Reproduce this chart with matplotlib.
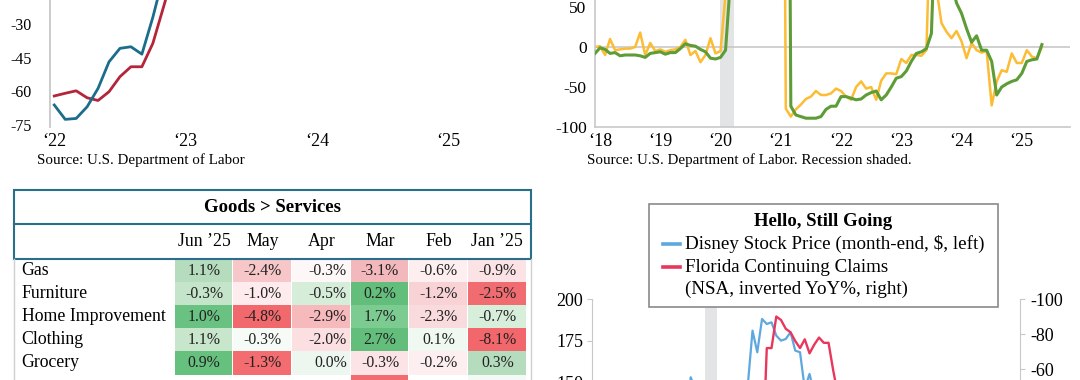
import matplotlib.pyplot as plt
from matplotlib.patches import Rectangle
import numpy as np

plt.rcParams['font.family'] = ['Liberation Serif', 'DejaVu Serif']
plt.rcParams['axes.unicode_minus'] = False

W, H = 1080, 380

# top left panel, monthly from Jan '22
tl_blue = [-66.0, -72.4, -72.0, -66.8, -58.6, -46.8, -40.8, -40.1, -43.4, -27.0, -8.0]
tl_red = [-62.0, -60.8, -59.7, -62.8, -64.0, -60.1, -53.4, -49.0, -49.0, -38.6, -22.0, -5.0]
tl_ticks = [0, 12, 24, 36]
tl_labels = ['\u201822', '\u201823', '\u201824', '\u201825']

# top right panel, monthly from Jan '18 (YoY %)
tr_yellow = [0, 1, -10, 10, -4, -3, -2, -2, 0, 18, -10, 5,
             -5, -3, -6, -4, -3, 0, 9, -10, -5, -19, -10, 11,
             -8, -5, 66, 2500, 2000, 1200, 900, 800, 600, 450, 350, 300,
             250, 1000, -77, -87, -78, -72, -65, -62, -55, -60, -60, -58,
             -52, -55, -62, -66, -50, -43, -52, -50, -66, -42, -33, -33,
             -34, -15, -20, -10, -10, -11, -4, 205, 73, 30, 19, 11,
             20, 7, -14, 5, -4, -7, -5, -73, -43, -29, -31, -8,
             -20, -20, -4, -12, -14, 0]
tr_green = [-8, -1, -3, -8, -7, -11, -10, -10, -10, -11, -13, -8,
            -7, -6, -9, -7, -7, -2, 4, 2, 1, -3, -6, -14,
            -15, -13, -4, 86, 2500, 2000, 1500, 1200, 1000, 800, 600, 500,
            400, 300, 1000, -74, -85, -87, -89, -89, -89, -87, -78, -74,
            -74, -62, -62, -64, -66, -65, -60, -57, -55, -66, -60, -50,
            -39, -37, -30, -18, -8, -6, -2, 17, 200, 250, 150, 80,
            55, 42, 23, 6, 14, -4, -4, -18, -60, -50, -46, -43,
            -41, -33, -18, -16, -15, 3]
tr_ticks = [1, 13, 25, 37, 49, 61, 73, 85]
tr_labels = ['\u201818', '\u201819', '\u201820', '\u201821', '\u201822', '\u201823', '\u201824', '\u201825']
recession = [24.9, 27.6]  # months since Jan '18

# bottom right panel, months since Jan '18
disney_start = 20
disney = [130, 130, 153, 145, 138, 118, 97, 108, 117, 112, 117, 132, 124, 121,
          148, 181, 168, 188, 185, 186, 178, 175, 176, 180, 169, 168, 146, 155, 143, 148, 137]
fl_start = 34
fl_claims = [30, 25, 15, 0, -72, -72, -90, -88, -83, -81, -76, -72, -77, -69,
             -74, -78, -75, -75, -59, -45, -30]

# table
table_title = 'Goods > Services'
table_cols = ['Jun \u201925', 'May', 'Apr', 'Mar', 'Feb', 'Jan \u201925']
table_rows = ['Gas', 'Furniture', 'Home Improvement', 'Clothing', 'Grocery']
table_vals = [[1.1, -2.4, -0.3, -3.1, -0.6, -0.9],
              [-0.3, -1.0, -0.5, 0.2, -1.2, -2.5],
              [1.0, -4.8, -2.9, 1.7, -2.3, -0.7],
              [1.1, -0.3, -2.0, 2.7, 0.1, -8.1],
              [0.9, -1.3, 0.0, -0.3, -0.2, 0.3]]
table_colors = [['#b5dcbd', '#f6c6c9', '#fdf7f8', '#f3b8bc', '#fdeff0', '#fbe3e5'],
                ['#c5e5ca', '#fdebed', '#d5edd9', '#63be7b', '#f8d2d5', '#f06c70'],
                ['#6ac282', '#f1696d', '#f6b9bc', '#7ccb90', '#f9dadd', '#d7eedb'],
                ['#c7e6cc', '#f7fbf8', '#fbdfe1', '#63be7b', '#eff8f1', '#f2676b'],
                ['#66c07e', '#f26c70', '#edf7ef', '#fce3e5', '#fdeff0', '#b6dcbe'],
                ['#ffffff', '#ffffff', '#ffffff', '#f16b6f', '#ffffff', '#f3f9f4']]
table_align = ['center', 'center', 'right', 'center', 'center', 'center']

GRAY = '#c8c8c8'
SHADE = '#e3e4e6'

fig = plt.figure(figsize=(10.8, 3.8), dpi=100)


def px_axes(l, t, r, b):
    return fig.add_axes([l / W, 1 - b / H, (r - l) / W, (b - t) / H])


# ---- top left ----
ax1 = px_axes(50, 0, 500, 127)
ax1.plot(np.arange(len(tl_red)), tl_red, color='#b5243b', lw=2.0)
ax1.plot(np.arange(len(tl_blue)), tl_blue, color='#1c6d8c', lw=2.0)
ax1.set_xlim(-0.39, 40.7)
ax1.set_ylim(-75.8, -19.3)
ax1.set_yticks([-75, -60, -45, -30])
ax1.set_xticks(tl_ticks, tl_labels)
for s in ['top', 'right', 'bottom']:
    ax1.spines[s].set_visible(False)
ax1.spines['left'].set_color(GRAY)
ax1.spines['left'].set_linewidth(1.3)
ax1.tick_params(axis='y', length=0, pad=13, labelsize=11.5)
ax1.tick_params(axis='x', length=0, pad=4, labelsize=13)
fig.text(37 / W, 1 - 160 / H, 'Source: U.S. Department of Labor', fontsize=10.8, va='center')

# ---- top right ----
ax2 = px_axes(595, 0, 1070, 127)
ax2.axvspan(recession[0], recession[1], color=SHADE, lw=0, zorder=0)
ax2.axhline(0, color=GRAY, lw=1.2, zorder=1)
ax2.plot(np.arange(len(tr_yellow)), tr_yellow, color='#fcbc34', lw=1.8, zorder=2)
ax2.plot(np.arange(len(tr_green)), tr_green, color='#5d9c36', lw=2.2, zorder=3)
ax2.set_xlim(0, 94.6)
ax2.set_ylim(-100, 58.75)
ax2.set_yticks([-100, -50, 0, 50])
ax2.set_xticks(tr_ticks, tr_labels)
for s in ['top', 'right']:
    ax2.spines[s].set_visible(False)
for s in ['left', 'bottom']:
    ax2.spines[s].set_color(GRAY)
    ax2.spines[s].set_linewidth(1.2)
ax2.tick_params(axis='y', length=0, pad=6, labelsize=12.5)
ax2.tick_params(axis='x', length=0, pad=4, labelsize=13)
fig.text(587 / W, 1 - 160 / H, 'Source: U.S. Department of Labor. Recession shaded.',
         fontsize=10.8, va='center')

# ---- bottom right ----
ax4 = px_axes(591.7, 299, 1020, 632)
ax4.axvspan(recession[0], recession[1], color=SHADE, lw=0, zorder=0)
ax4.plot(disney_start + np.arange(len(disney)), disney, color='#5ea8df', lw=1.6)
ax4.set_xlim(1.15, 91.3)
ax4.set_ylim(0, 200)
ax4.set_yticks([150, 175, 200])
ax4.set_xticks([])
ax4r = ax4.twinx()
ax4r.plot(fl_start + np.arange(len(fl_claims)), fl_claims, color='#e9365c', lw=1.7)
ax4r.set_ylim(90, -100)
ax4r.set_yticks([-100, -80, -60])
for s in ['top', 'right', 'bottom']:
    ax4.spines[s].set_visible(False)
for s in ['top', 'left', 'bottom']:
    ax4r.spines[s].set_visible(False)
ax4.spines['left'].set_color(GRAY)
ax4r.spines['right'].set_color(GRAY)
ax4.tick_params(axis='y', length=3.6, color=GRAY, pad=2.5, labelsize=13)
ax4r.tick_params(axis='y', length=3.6, color=GRAY, pad=3.6, labelsize=13)

# ---- overlay: table and legend box ----
ax_o = fig.add_axes([0, 0, 1, 1])
ax_o.set_xlim(0, W)
ax_o.set_ylim(H, 0)
ax_o.axis('off')

teal = '#2b6e8b'
tb_l, tb_r = 14, 531
tb_t, tb_mid, tb_hdr = 190, 224, 259
cell_x0, cell_w, row_h = 174.7, 58.65, 23.1
lab_x = 21.5

for i, row_colors in enumerate(table_colors):
    y = tb_hdr + i * row_h
    for j, c in enumerate(row_colors):
        ax_o.add_patch(Rectangle((cell_x0 + j * cell_w, y), cell_w - 1, row_h, fc=c, ec='none'))
for i, name in enumerate(table_rows):
    yc = tb_hdr + (i + 0.5) * row_h
    ax_o.text(lab_x, yc, name, fontsize=12.8, va='center', ha='left')
    for j, v in enumerate(table_vals[i]):
        if table_align[j] == 'right':
            x, ha = cell_x0 + (j + 1) * cell_w - 4, 'right'
        else:
            x, ha = cell_x0 + (j + 0.5) * cell_w, 'center'
        ax_o.text(x, yc, f'{v:.1f}%', fontsize=11.3, va='center', ha=ha, color='#222222')

ax_o.plot([tb_l, tb_l], [tb_hdr, H], color='#cfcfcf', lw=1)
ax_o.plot([tb_r, tb_r], [tb_hdr, H], color='#cfcfcf', lw=1)
ax_o.add_patch(Rectangle((tb_l, tb_t), tb_r - tb_l, tb_hdr - tb_t, fill=False, ec=teal, lw=1.5))
ax_o.plot([tb_l, tb_r], [tb_mid, tb_mid], color=teal, lw=1.5)
ax_o.text((tb_l + tb_r) / 2, (tb_t + tb_mid) / 2, table_title, fontsize=13.5,
          fontweight='bold', ha='center', va='center')
for j, c in enumerate(table_cols):
    ax_o.text(cell_x0 + (j + 0.5) * cell_w, (tb_mid + tb_hdr) / 2, c, fontsize=12.8,
              ha='center', va='center')

# legend box
ax_o.add_patch(Rectangle((649, 204), 349, 103, fc='white', ec='#8a8a8a', lw=1.2, zorder=5))
ax_o.text(823.5, 222, 'Hello, Still Going', fontsize=13.5, fontweight='bold',
          ha='center', va='center', zorder=6)
ax_o.plot([663, 680], [244, 244], color='#5ea8df', lw=2.6, zorder=6)
ax_o.text(685, 244, 'Disney Stock Price (month-end, $, left)', fontsize=13.7,
          va='center', zorder=6)
ax_o.plot([663, 680], [267, 267], color='#e9365c', lw=2.6, zorder=6)
ax_o.text(685, 267, 'Florida Continuing Claims', fontsize=13.7, va='center', zorder=6)
ax_o.text(685, 289, '(NSA, inverted YoY%, right)', fontsize=13.7, va='center', zorder=6)

fig.savefig('out.png', dpi=100)
